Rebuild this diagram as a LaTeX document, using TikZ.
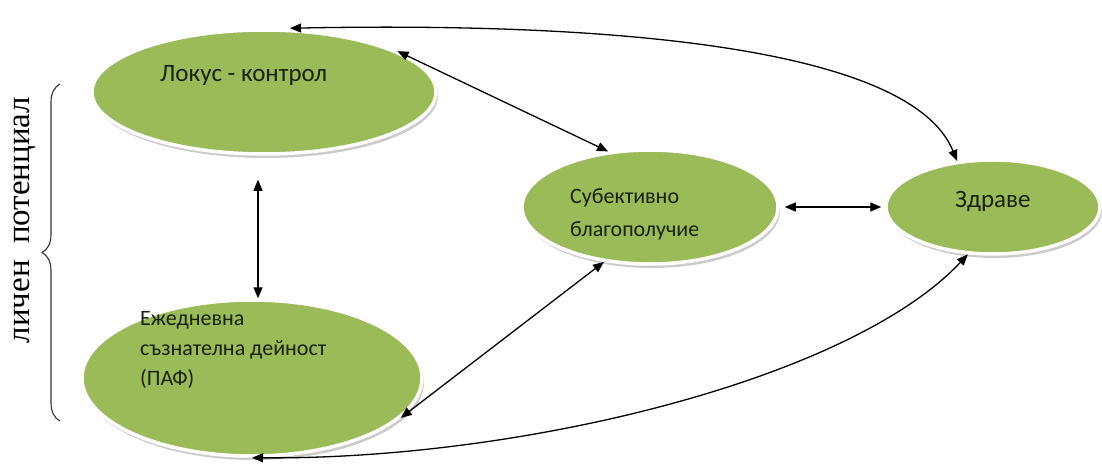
\documentclass[tikz,border=0pt]{standalone}
\usepackage{fontspec}
\setmainfont{Carlito}
\newfontfamily\serifcyr{Liberation Serif}
\usetikzlibrary{shapes.geometric,arrows.meta,decorations.pathreplacing,shadows}
\definecolor{ovalgreen}{HTML}{9BBB59}
\definecolor{txtgreen}{HTML}{18220C}
\begin{document}
\begin{tikzpicture}[x=1pt,y=-1pt,
  oval/.style={ellipse, fill=ovalgreen, draw=white, line width=3.5pt, inner sep=0pt,
    drop shadow={shadow xshift=2pt, shadow yshift=-4pt, opacity=0.45, fill=black!45}},
  lbl/.style={text=txtgreen, align=left, inner sep=0pt},
  conn/.style={black, line width=1.3pt, {Triangle[length=11pt,width=9pt]}-{Triangle[length=11pt,width=9pt]}}
]
\useasboundingbox (0,0) rectangle (1102,468);
% ovals
\node[oval, minimum width=344pt, minimum height=124pt] (lok) at (264,92) {};
\node[oval, minimum width=340pt, minimum height=156pt] (eje) at (252,378) {};
\node[oval, minimum width=256pt, minimum height=114pt] (sub) at (650,207) {};
\node[oval, minimum width=214pt, minimum height=94pt] (zdr) at (993,207) {};
% texts
\node[lbl, anchor=west, font=\fontsize{25}{30}\selectfont] (tlok) at (160,75) {Локус - контрол};
\node[lbl, anchor=north west, font=\fontsize{22}{30}\selectfont] (teje) at (140,311) {Ежедневна\\ съзнателна дейност\\ (ПАФ)};
\node[lbl, anchor=north west, font=\fontsize{22}{33}\selectfont] (tsub) at (570,188) {Субективно\\ благополучие};
\node[lbl, anchor=west, font=\fontsize{25}{30}\selectfont] (tzdr) at (955,201) {Здраве};
% brace
\coordinate (bb) at (60,421);
\coordinate (bt) at (60,84);
\draw[line width=1.1pt, black!80, decorate, decoration={brace, amplitude=18pt}] (bb) -- (bt);
\node[rotate=90, inner sep=0pt, font=\serifcyr\fontsize{33}{36}\selectfont] (pot) at (25,220) {личен\ \ потенциал};
% connectors
\draw[conn] (zdr.128) .. controls (910,45) and (600,22) .. ([xshift=26pt]lok.north);
\draw[conn] (lok.17) -- (sub.127);
\draw[conn, shorten <=24pt] (lok.south -| 258,0) -- (eje.north -| 258,0);
\draw[conn] (sub.-130) -- (eje.-15);
\draw[conn, shorten <=5pt, shorten >=3pt] (sub.east) -- (zdr.west);
\draw[conn] (zdr.-118) .. controls (850,380) and (520,460) .. (eje.south);
\end{tikzpicture}
\end{document}
